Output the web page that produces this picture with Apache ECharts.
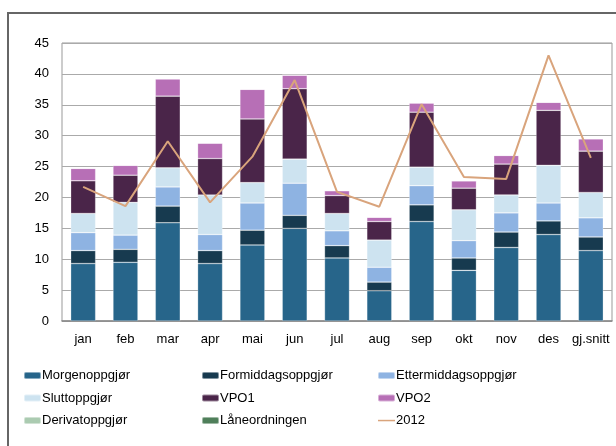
<!DOCTYPE html>
<html>
<head>
    <meta charset="utf-8">
    <title>Oppgjør</title>
    <script src="https://cdn.jsdelivr.net/npm/echarts@6/dist/echarts.min.js"></script>
</head>
<body style="margin:0">
    <div id="main" style="width:616px;height:446px;"></div>
    <script type="text/javascript">
        // kategorier og verdier lest av figuren
        var months = ['jan', 'feb', 'mar', 'apr', 'mai', 'jun', 'jul', 'aug', 'sep', 'okt', 'nov', 'des', 'gj.snitt'];
        var morgen = [9.3, 9.5, 15.9, 9.3, 12.3, 15.0, 10.2, 4.9, 16.1, 8.2, 11.9, 14.0, 11.4];
        var formiddag = [2.1, 2.1, 2.7, 2.1, 2.4, 2.1, 2.0, 1.4, 2.7, 2.0, 2.5, 2.2, 2.2];
        var ettermiddag = [2.9, 2.3, 3.1, 2.6, 4.4, 5.2, 2.4, 2.4, 3.1, 2.8, 3.1, 2.9, 3.1];
        var slutt = [3.1, 5.3, 3.1, 6.4, 3.3, 3.9, 2.8, 4.4, 3.0, 5.0, 2.9, 6.1, 4.1];
        var vpo1 = [5.3, 4.4, 11.6, 5.9, 10.3, 11.4, 2.9, 3.0, 8.9, 3.5, 5.0, 8.9, 6.7];
        var vpo2 = [2.0, 1.6, 2.8, 2.5, 4.8, 2.2, 0.8, 0.7, 1.5, 1.2, 1.4, 1.3, 2.0];
        var derivat = [0, 0, 0, 0, 0, 0, 0, 0, 0, 0, 0, 0, 0];
        var laan = [0, 0, 0, 0, 0, 0, 0, 0, 0, 0, 0, 0, 0];
        var line2012 = [21.7, 18.6, 29.1, 19.2, 26.6, 39.0, 20.9, 18.5, 35.1, 23.3, 23.0, 43.0, 26.4];

        var myChart = echarts.init(document.getElementById('main'));

        function bar(name, data, color) {
            return {
                name: name,
                type: 'bar',
                stack: 'tot',
                data: data,
                barWidth: '59%',
                itemStyle: { color: color, borderColor: 'rgba(255,255,255,0.45)', borderWidth: 0.6 },
                emphasis: { disabled: true }
            };
        }

        // strek som symbol for linjeserien
        var lineIcon = 'path://M0,0M17,7M0,2.8h17v1.5h-17z';

        function legend(left, names) {
            return {
                orient: 'vertical',
                left: left,
                top: 369,
                itemWidth: 17,
                itemHeight: 7,
                itemGap: 9.5,
                padding: 0,
                selectedMode: false,
                textStyle: { fontFamily: 'Liberation Sans', fontSize: 13, color: '#000', padding: [0, 0, 0, -4] },
                data: names
            };
        }

        myChart.setOption({
            animation: false,
            textStyle: { fontFamily: 'Liberation Sans' },
            graphic: [{
                type: 'rect',
                shape: { x: 8, y: 13, width: 700, height: 500 },
                style: { fill: 'none', stroke: '#666', lineWidth: 2 },
                silent: true
            }],
            grid: { left: 62, top: 43, right: 4, bottom: 125, show: true, borderColor: '#999', borderWidth: 1 },
            legend: [
                legend(23, ['Morgenoppgjør', 'Sluttoppgjør', 'Derivatoppgjør']),
                legend(201, ['Formiddagsoppgjør', 'VPO1', 'Låneordningen']),
                legend(377, ['Ettermiddagsoppgjør', 'VPO2', { name: '2012', icon: lineIcon }])
            ],
            xAxis: {
                type: 'category',
                data: months,
                axisTick: { show: false },
                axisLine: { lineStyle: { color: '#888', width: 1.5 } },
                axisLabel: { color: '#000', fontSize: 13, margin: 12, interval: 0 }
            },
            yAxis: {
                type: 'value',
                min: 0,
                max: 45,
                interval: 5,
                axisLine: { show: false },
                axisTick: { show: false },
                splitLine: { lineStyle: { color: '#aaa', width: 1 } },
                axisLabel: { color: '#000', fontSize: 13, margin: 13 }
            },
            series: [
                bar('Morgenoppgjør', morgen, '#27658a'),
                bar('Formiddagsoppgjør', formiddag, '#173a4f'),
                bar('Ettermiddagsoppgjør', ettermiddag, '#8eb3e2'),
                bar('Sluttoppgjør', slutt, '#cde3f0'),
                bar('VPO1', vpo1, '#4a2549'),
                bar('VPO2', vpo2, '#b76fb6'),
                bar('Derivatoppgjør', derivat, '#abcbb1'),
                bar('Låneordningen', laan, '#4f7f5a'),
                {
                    name: '2012',
                    type: 'line',
                    data: line2012,
                    symbol: 'none',
                    lineStyle: { color: '#d9a47c', width: 2 },
                    itemStyle: { color: '#d9a47c' },
                    z: 5
                }
            ]
        });
    </script>
</body>
</html>
